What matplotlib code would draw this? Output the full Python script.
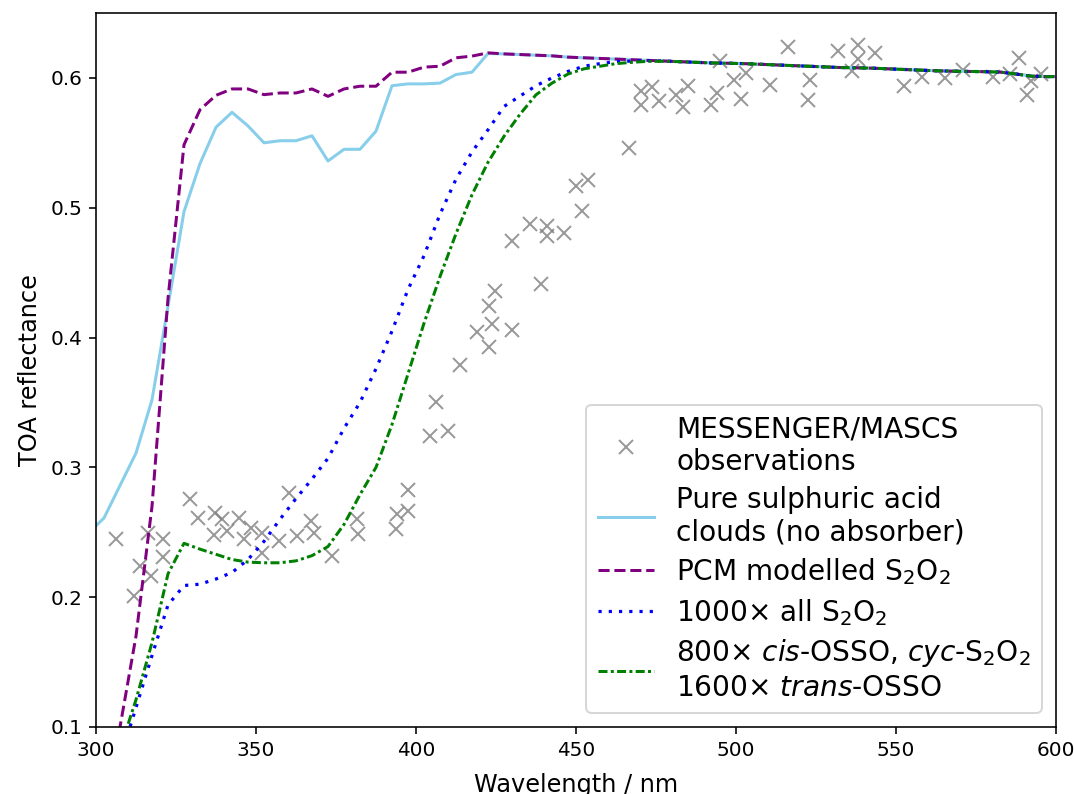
import matplotlib
matplotlib.use("Agg")
import matplotlib.pyplot as plt

# Model wavelength grid (nm)
wavelength = [297.5, 302.5, 307.5, 312.5, 317.5, 322.5, 327.5, 332.5, 337.5, 342.5,
              347.5, 352.5, 357.5, 362.5, 367.5, 372.5, 377.5, 382.5, 387.5, 392.5,
              397.5, 402.5, 407.5, 412.5, 417.5, 422.5, 427.5, 432.5, 437.5, 442.5,
              447.5, 452.5, 457.5, 462.5, 467.5, 472.5, 477.5, 482.5, 487.5, 492.5,
              497.5, 502.5, 507.5, 512.5, 517.5, 522.5, 527.5, 532.5, 537.5, 542.5,
              547.5, 552.5, 557.5, 562.5, 567.5, 572.5, 577.5, 582.5, 587.5, 592.5,
              597.5, 602.5]

pure_h2so4 = [0.249, 0.261, 0.286, 0.311, 0.352, 0.424, 0.497, 0.534, 0.562, 0.5735,
              0.563, 0.550, 0.5516, 0.5516, 0.5554, 0.536, 0.545, 0.545, 0.559, 0.594,
              0.5954, 0.5954, 0.596, 0.6026, 0.6044, 0.6188, 0.6185, 0.618, 0.6175, 0.617,
              0.616, 0.6155, 0.615, 0.6145, 0.614, 0.6135, 0.613, 0.6125, 0.612, 0.6115,
              0.6113, 0.611, 0.6105, 0.610, 0.6095, 0.609, 0.6085, 0.608, 0.6078, 0.6075,
              0.607, 0.6065, 0.606, 0.6055, 0.6052, 0.605, 0.6048, 0.6045, 0.603, 0.6013,
              0.601, 0.601]

pcm_s2o2 = [-0.04, 0.03, 0.10, 0.17, 0.27, 0.43, 0.5485, 0.5755, 0.5866, 0.5915,
            0.5915, 0.5871, 0.5884, 0.5884, 0.5915, 0.5858, 0.5915, 0.5936, 0.5936, 0.6044,
            0.6044, 0.6083, 0.609, 0.6155, 0.6168, 0.6193, 0.6185, 0.618, 0.6175, 0.617,
            0.616, 0.6155, 0.615, 0.6145, 0.614, 0.6135, 0.613, 0.6125, 0.612, 0.6115,
            0.6113, 0.611, 0.6105, 0.610, 0.6095, 0.609, 0.6085, 0.608, 0.6078, 0.6075,
            0.607, 0.6065, 0.606, 0.6055, 0.6052, 0.605, 0.6048, 0.6045, 0.603, 0.6013,
            0.601, 0.601]

all_s2o2_x1000 = [0.0, 0.035, 0.075, 0.115, 0.155, 0.194, 0.209, 0.210, 0.214, 0.219,
                  0.229, 0.243, 0.260, 0.276, 0.291, 0.307, 0.330, 0.350, 0.376, 0.405,
                  0.437, 0.463, 0.495, 0.522, 0.543, 0.560, 0.578, 0.586, 0.594, 0.600,
                  0.605, 0.609, 0.611, 0.6125, 0.613, 0.6133, 0.613, 0.6125, 0.612, 0.6115,
                  0.6113, 0.611, 0.6105, 0.610, 0.6095, 0.609, 0.6085, 0.608, 0.6078, 0.6075,
                  0.607, 0.6065, 0.606, 0.6055, 0.6052, 0.605, 0.6048, 0.6045, 0.603, 0.6013,
                  0.601, 0.601]

osso_mix = [0.0, 0.040, 0.083, 0.121, 0.165, 0.218, 0.2415, 0.237, 0.233, 0.229,
            0.227, 0.2265, 0.2265, 0.228, 0.232, 0.239, 0.256, 0.279, 0.300, 0.333,
            0.372, 0.411, 0.447, 0.480, 0.510, 0.535, 0.555, 0.572, 0.587, 0.596,
            0.603, 0.607, 0.609, 0.611, 0.612, 0.6128, 0.6128, 0.6125, 0.612, 0.6115,
            0.6113, 0.611, 0.6105, 0.610, 0.6095, 0.609, 0.6085, 0.608, 0.6078, 0.6075,
            0.607, 0.6065, 0.606, 0.6055, 0.6052, 0.605, 0.6048, 0.6045, 0.603, 0.6013,
            0.601, 0.601]

# MESSENGER/MASCS observations
obs_wavelength = [306.4, 311.8, 313.7, 316.2, 317.2, 321.0, 321.0, 329.3, 331.8, 337.3,
                  337.0, 339.4, 341.0, 344.6, 346.4, 348.3, 351.9, 351.9, 357.3, 360.2,
                  362.8, 367.2, 368.2, 373.8, 381.6, 381.9, 393.6, 394.1, 397.4, 397.4,
                  404.5, 409.9, 406.4, 413.7, 419.1, 422.8, 423.6, 422.8, 424.6, 430.0,
                  430.0, 435.5, 440.9, 440.9, 439.2, 446.4, 450.1, 453.7, 451.9, 466.5,
                  470.3, 470.3, 473.9, 475.9, 481.2, 483.3, 484.9, 492.2, 494.2, 494.9,
                  499.5, 501.5, 503.2, 510.5, 516.1, 523.1, 522.4, 531.8, 538.0, 538.0,
                  536.4, 543.3, 552.4, 558.0, 565.4, 571.0, 580.2, 585.5, 588.4, 591.0,
                  592.1, 595.4]
obs_reflectance = [0.2445, 0.2012, 0.2239, 0.2497, 0.2167, 0.2445, 0.2311, 0.2754, 0.2613, 0.2651,
                   0.2476, 0.2600, 0.2509, 0.2613, 0.2451, 0.2535, 0.2497, 0.2342, 0.2432, 0.2806,
                   0.2471, 0.2587, 0.2497, 0.2321, 0.2600, 0.2484, 0.2522, 0.2638, 0.2826, 0.2664,
                   0.3243, 0.3277, 0.3506, 0.3792, 0.4042, 0.3926, 0.4107, 0.4240, 0.4356, 0.4055,
                   0.4743, 0.4874, 0.4859, 0.4781, 0.4416, 0.4808, 0.5171, 0.5210, 0.4978, 0.5460,
                   0.5897, 0.5794, 0.5928, 0.5820, 0.5866, 0.5774, 0.5936, 0.5794, 0.5884, 0.6134,
                   0.5987, 0.5840, 0.6039, 0.5949, 0.6237, 0.5987, 0.5833, 0.6211, 0.6253, 0.6142,
                   0.6052, 0.6193, 0.5936, 0.6005, 0.6000, 0.6064, 0.6005, 0.6031, 0.6155, 0.5866,
                   0.5974, 0.6031]

DPI = 144
fig = plt.figure(figsize=(1074 / DPI, 794 / DPI), dpi=DPI)
ax = fig.add_axes([96 / 1074, 1 - 727 / 794, (1056 - 96) / 1074, (727 - 13) / 794])

ax.plot(obs_wavelength, obs_reflectance, linestyle='none', marker='x', markersize=7,
        color='grey', alpha=0.8, label='MESSENGER/MASCS\nobservations')
ax.plot(wavelength, pure_h2so4, '-', color='skyblue', lw=1.5,
        label='Pure sulphuric acid\nclouds (no absorber)')
ax.plot(wavelength, pcm_s2o2, linestyle='--', color='purple', lw=1.5,
        label='PCM modelled S$_2$O$_2$')
ax.plot(wavelength, all_s2o2_x1000, linestyle=(0, (1, 2.2)), color='blue', lw=1.6,
        label='1000\u00d7 all S$_2$O$_2$')
ax.plot(wavelength, osso_mix, linestyle=(0, (3, 1.1, 1, 1.1)), color='green', lw=1.5,
        label='800\u00d7 $\\it{cis}$-OSSO, $\\it{cyc}$-S$_2$O$_2$\n1600\u00d7 $\\it{trans}$-OSSO')

ax.set_xlim(300, 600)
ax.set_ylim(0.1, 0.65)
ax.set_xticks([300, 350, 400, 450, 500, 550, 600])
ax.set_yticks([0.1, 0.2, 0.3, 0.4, 0.5, 0.6])
ax.tick_params(labelsize=10)
ax.set_xlabel('Wavelength / nm', fontsize=12, labelpad=6.5)
ax.set_ylabel('TOA reflectance', fontsize=12)
ax.legend(loc='lower right', fontsize=14, labelspacing=0.35)

fig.savefig('out.png', dpi=DPI)
